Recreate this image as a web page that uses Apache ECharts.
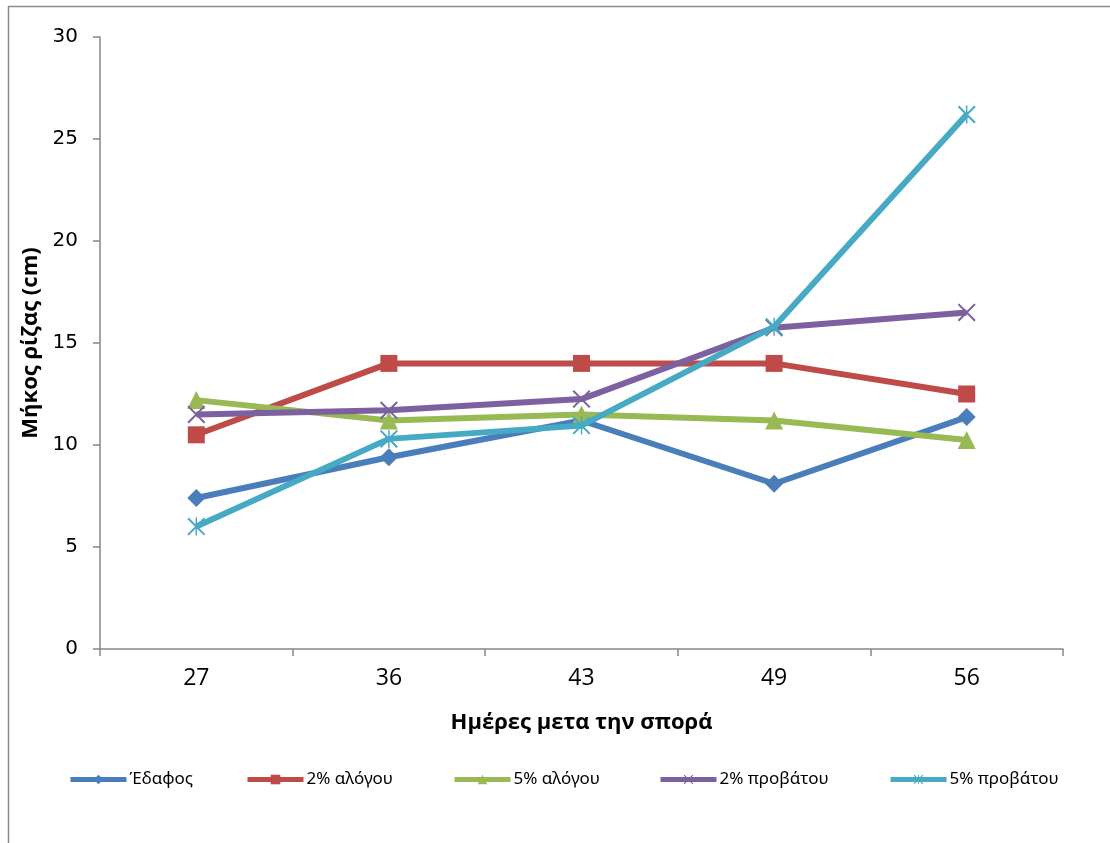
<!DOCTYPE html>
<html><head><meta charset="utf-8">
<script src="https://cdn.jsdelivr.net/npm/echarts@6/dist/echarts.min.js"></script>
<style>html,body{margin:0;padding:0;background:#fff}#c{width:1110px;height:843px}</style>
</head><body><div id="c"></div>
<script>
const categories = ['27', '36', '43', '49', '56'];
const seriesNames = ['Έδαφος', '2% αλόγου', '5% αλόγου', '2% προβάτου', '5% προβάτου'];
const edafos = [7.4, 9.4, 11.2, 8.1, 11.37];
const alogou2 = [10.5, 14.0, 14.0, 14.0, 12.5];
const alogou5 = [12.2, 11.2, 11.5, 11.2, 10.25];
const provatou2 = [11.5, 11.7, 12.25, 15.75, 16.5];
const provatou5 = [6.0, 10.3, 10.95, 15.8, 26.2];
const yTicks = [0, 5, 10, 15, 20, 25, 30];

const colors = ['#4A7EBB', '#BE4B48', '#98B954', '#7D60A0', '#46AAC5'];
const xPath = 'path://M0,0.8 L0.8,0 L10,9.2 L9.2,10 Z M9.2,0 L10,0.8 L0.8,10 L0,9.2 Z';
const starPath = 'path://M0,0.8 L0.8,0 L10,9.2 L9.2,10 Z M9.2,0 L10,0.8 L0.8,10 L0,9.2 Z M4.6,0 L5.4,0 L5.4,10 L4.6,10 Z';
const symbols = ['diamond', 'rect', 'triangle', xPath, starPath];
const sizes = [18, 17, 18, 18, 18];
const dataSets = [edafos, alogou2, alogou5, provatou2, provatou5];
const legendLeft = [63, 240, 447, 653, 883];

const chart = echarts.init(document.getElementById('c'));
chart.setOption({
  animation: false,
  color: colors,
  graphic: [{type: 'rect', shape: {x: 8.5, y: 6.5, width: 1200, height: 900}, style: {fill: 'none', stroke: '#8C8C8C', lineWidth: 1.5}, silent: true}],
  grid: {left: 100, right: 47, top: 37, bottom: 194, containLabel: false},
  legend: seriesNames.map((n, i) => ({
    data: [n], left: legendLeft[i], top: 766, itemWidth: 56, itemHeight: 12, itemGap: 3,
    lineStyle: {width: 5},
    textStyle: {fontFamily: 'Noto Sans', fontSize: 17, color: '#000', padding: [0, 0, 0, -2]}
  })),
  xAxis: {
    type: 'category', data: categories, boundaryGap: true,
    name: 'Ημέρες μετα την σπορά', nameLocation: 'middle', nameGap: 63,
    nameTextStyle: {fontFamily: 'Open Sans', fontWeight: 'bold', fontSize: 22, color: '#000'},
    axisLine: {lineStyle: {color: '#868686', width: 1.5}},
    axisTick: {show: true, length: 7, lineStyle: {color: '#868686', width: 1.5}},
    axisLabel: {fontFamily: 'Open Sans', fontSize: 23, color: '#000', margin: 18}
  },
  yAxis: {
    type: 'value', min: 0, max: 30, interval: 5,
    name: 'Μήκος ρίζας (cm)', nameLocation: 'middle', nameGap: 58, nameRotate: 90,
    nameTextStyle: {fontFamily: 'Open Sans', fontWeight: 'bold', fontSize: 22, color: '#000'},
    axisLine: {show: true, lineStyle: {color: '#868686', width: 1.5}},
    axisTick: {show: true, length: 7, lineStyle: {color: '#868686', width: 1.5}},
    splitLine: {show: false},
    axisLabel: {fontFamily: 'DejaVu Sans', fontSize: 20, color: '#000', margin: 22,
      formatter: v => yTicks.includes(v) ? String(v) : ''}
  },
  series: seriesNames.map((n, i) => ({
    name: n, type: 'line', data: dataSets[i],
    symbol: symbols[i], symbolSize: sizes[i], showAllSymbol: true,
    lineStyle: {width: 6, color: colors[i]},
    itemStyle: {color: colors[i]},
    z: 2 + i
  }))
});
</script></body></html>
